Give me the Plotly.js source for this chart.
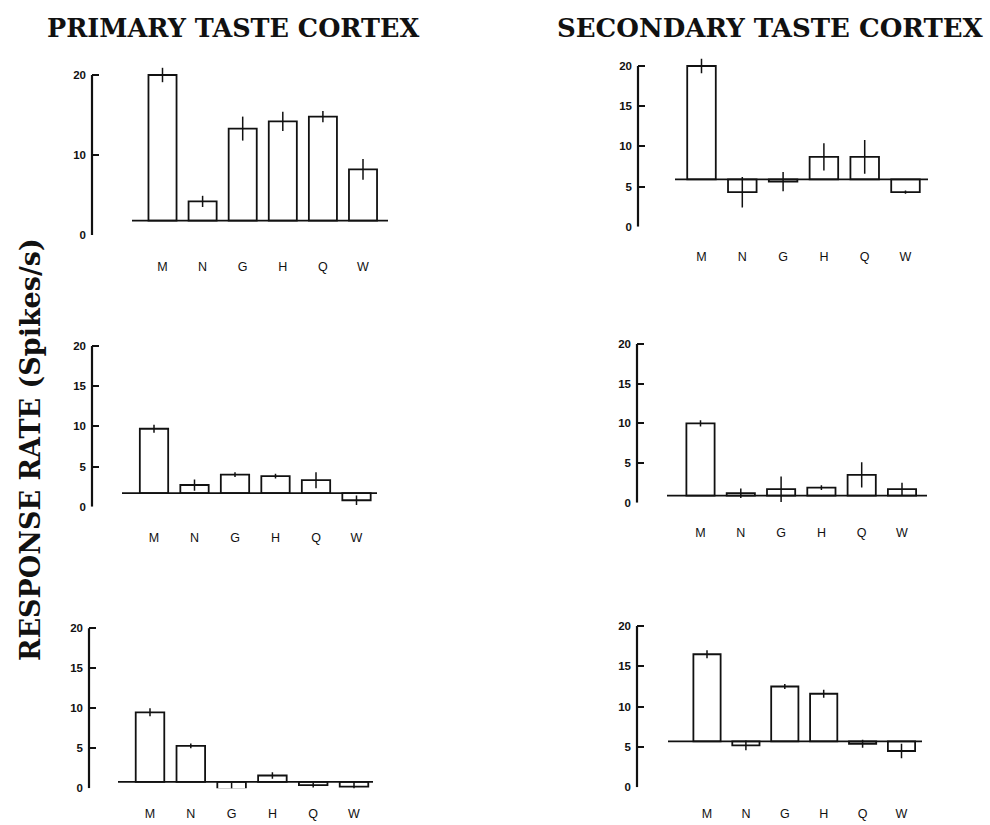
<!DOCTYPE html>
<html>
<head>
<meta charset="utf-8">
<script src="https://cdn.plot.ly/plotly-3.0.1.min.js"></script>
<style>html,body{margin:0;padding:0;background:#fff;} #chart{width:990px;height:825px;}</style>
</head>
<body>
<div id="chart"></div>
<script>
// ---- data ----
const categories = ['M', 'N', 'G', 'H', 'Q', 'W'];

// Spontaneous (baseline) rates, spikes/s
const primaryBaseline = [1.8, 1.7, 0.8];
const secondaryBaseline = [5.9, 0.9, 5.7];

// Primary taste cortex (rows 1..3)
const primaryRow1 = [20.0, 4.2, 13.3, 14.2, 14.8, 8.2];
const primaryRow1Err = [0.9, 0.7, 1.5, 1.2, 0.7, 1.3];
const primaryRow2 = [9.7, 2.7, 4.0, 3.8, 3.3, 0.8];
const primaryRow2Err = [0.5, 0.7, 0.3, 0.3, 1.0, 0.6];
const primaryRow3 = [9.5, 5.3, -0.1, 1.6, 0.4, 0.2];
const primaryRow3Err = [0.5, 0.3, 0.8, 0.4, 0.3, 0.6];

// Secondary taste cortex (rows 1..3)
const secondaryRow1 = [20.0, 4.3, 5.6, 8.7, 8.7, 4.3];
const secondaryRow1Err = [0.9, 1.9, 1.2, 1.7, 2.1, 0.2];
const secondaryRow2 = [10.0, 1.2, 1.7, 1.9, 3.5, 1.7];
const secondaryRow2Err = [0.4, 0.6, 1.6, 0.3, 1.6, 0.8];
const secondaryRow3 = [16.5, 5.2, 12.5, 11.6, 5.4, 4.5];
const secondaryRow3Err = [0.5, 0.6, 0.3, 0.5, 0.5, 0.9];

const ticksCoarse = [0, 10, 20];
const ticksFine = [0, 5, 10, 15, 20];
const axisMax = 20;

// ---- layout geometry (pixels) ----
const W = 990, H = 825;
const TOP = 22; // plotted range top, leaves room for error bars above 20
const panels = [
  {vals: primaryRow1, err: primaryRow1Err, base: primaryBaseline[0], ticks: ticksCoarse,
   axisX: 92, cM: 162.5, sp: 40.1, y0: 235, y20: 75, lineL: 132, lineR: 388, standoff: 22},
  {vals: secondaryRow1, err: secondaryRow1Err, base: secondaryBaseline[0], ticks: ticksFine,
   axisX: 638, cM: 701.5, sp: 40.8, y0: 226.7, y20: 66, lineL: 675, lineR: 928, standoff: 21},
  {vals: primaryRow2, err: primaryRow2Err, base: primaryBaseline[1], ticks: ticksFine,
   axisX: 92, cM: 154, sp: 40.5, y0: 506.7, y20: 346, lineL: 122, lineR: 377, standoff: 22},
  {vals: secondaryRow2, err: secondaryRow2Err, base: secondaryBaseline[1], ticks: ticksFine,
   axisX: 637, cM: 700.5, sp: 40.3, y0: 502.7, y20: 344, lineL: 667, lineR: 927, standoff: 21},
  {vals: primaryRow3, err: primaryRow3Err, base: primaryBaseline[2], ticks: ticksFine,
   axisX: 89, cM: 150, sp: 40.8, y0: 788.3, y20: 628.3, lineL: 118, lineR: 373, standoff: 16},
  {vals: secondaryRow3, err: secondaryRow3Err, base: secondaryBaseline[2], ticks: ticksFine,
   axisX: 637, cM: 707, sp: 38.9, y0: 787.3, y20: 626, lineL: 668, lineR: 922, standoff: 17}
];

const serif = 'DejaVu Serif';
const traces = [];
const layout = {
  width: W, height: H,
  margin: {l: 0, r: 0, t: 0, b: 0},
  paper_bgcolor: '#fff', plot_bgcolor: 'rgba(0,0,0,0)',
  showlegend: false,
  shapes: [],
  annotations: [
    {text: '<b>PRIMARY TASTE CORTEX</b>', x: 233 / W, y: 1 - 28 / H, xref: 'paper', yref: 'paper',
     xanchor: 'center', yanchor: 'middle', showarrow: false,
     font: {family: serif, size: 25.5, color: '#111'}},
    {text: '<b>SECONDARY TASTE CORTEX</b>', x: 770 / W, y: 1 - 28 / H, xref: 'paper', yref: 'paper',
     xanchor: 'center', yanchor: 'middle', showarrow: false,
     font: {family: serif, size: 26, color: '#111'}},
    {text: '<b>RESPONSE RATE (Spikes/s)</b>', x: 31 / W, y: 1 - 450 / H, xref: 'paper', yref: 'paper',
     xanchor: 'center', yanchor: 'middle', showarrow: false, textangle: -90,
     font: {family: serif, size: 27, color: '#111'}}
  ]
};

panels.forEach((p, i) => {
  const n = i + 1;
  const xa = 'x' + (n === 1 ? '' : n), ya = 'y' + (n === 1 ? '' : n);
  const xKey = 'xaxis' + (n === 1 ? '' : n), yKey = 'yaxis' + (n === 1 ? '' : n);
  const rightPx = p.lineR + 4;
  const pxPerUnit = (p.y0 - p.y20) / axisMax;
  const topPx = p.y0 - pxPerUnit * TOP;
  const xs = categories.map((c, k) => k);
  traces.push({
    type: 'bar', x: xs, y: p.vals.map(v => v - p.base), base: p.base,
    xaxis: xa, yaxis: ya, width: 0.7, cliponaxis: false,
    marker: {color: '#fff', line: {color: '#111', width: 1.8}},
    error_y: {type: 'data', array: p.err, visible: true, width: 0, thickness: 1.5, color: '#111'},
    hoverinfo: 'skip'
  });
  layout[xKey] = {
    domain: [p.axisX / W, rightPx / W],
    range: [(p.axisX - p.cM) / p.sp, (rightPx - p.cM) / p.sp],
    anchor: ya, tickmode: 'array', tickvals: xs, ticktext: categories,
    showline: false, zeroline: false, showgrid: false, ticks: '',
    ticklabelstandoff: p.standoff,
    tickfont: {family: 'Liberation Sans, Arial', size: 12.5, color: '#111'},
    fixedrange: true
  };
  layout[yKey] = {
    domain: [1 - p.y0 / H, 1 - topPx / H],
    range: [0, TOP], anchor: xa,
    tickmode: 'array', tickvals: p.ticks, ticktext: p.ticks.map(t => '<b>' + t + '</b>'),
    showline: false,
    ticks: 'inside', ticklen: 7, tickwidth: 2, tickcolor: '#111',
    ticklabelstandoff: 5,
    showgrid: false, zeroline: false,
    tickfont: {family: 'Liberation Sans, Arial', size: 11.5, color: '#111'},
    fixedrange: true
  };
  // left axis bracket from 0 to 20
  layout.shapes.push({
    type: 'line', xref: xa + ' domain', yref: ya,
    x0: 0, x1: 0, y0: 0, y1: axisMax,
    line: {color: '#111', width: 2.2}, layer: 'above'
  });
  // spontaneous-rate baseline
  layout.shapes.push({
    type: 'line', xref: xa, yref: ya,
    x0: (p.lineL - p.cM) / p.sp, x1: (p.lineR - p.cM) / p.sp, y0: p.base, y1: p.base,
    line: {color: '#111', width: 1.8}, layer: 'above'
  });
});

Plotly.newPlot('chart', traces, layout, {staticPlot: true});
</script>
</body>
</html>
